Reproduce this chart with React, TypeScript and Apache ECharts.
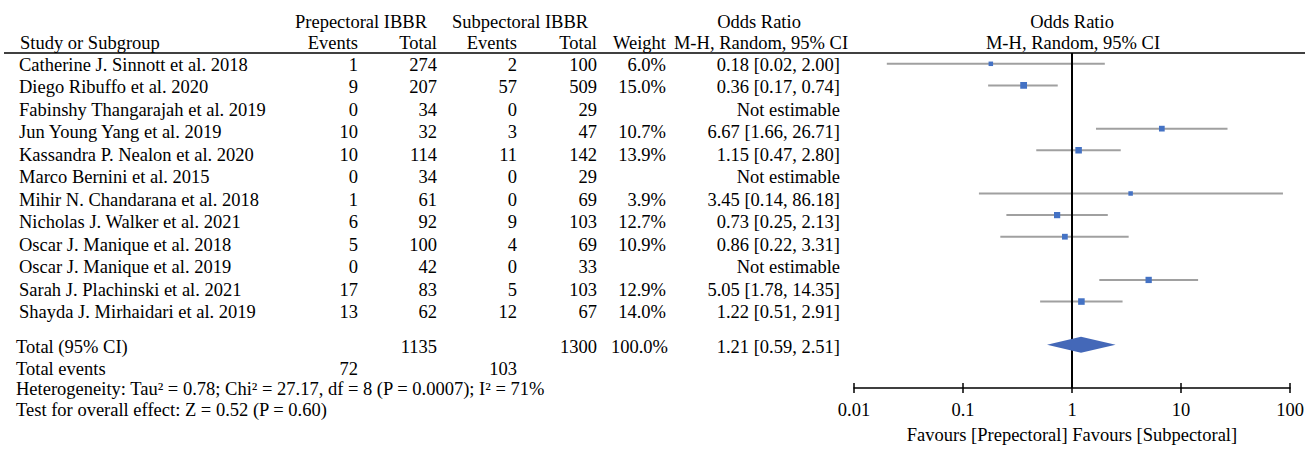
import React, { useEffect, useRef } from "react";
import * as echarts from "echarts";

// ---------- data ----------
const studies = [
  "Catherine J. Sinnott et al. 2018",
  "Diego Ribuffo et al. 2020",
  "Fabinshy Thangarajah et al. 2019",
  "Jun Young Yang et al. 2019",
  "Kassandra P. Nealon et al. 2020",
  "Marco Bernini et al. 2015",
  "Mihir N. Chandarana et al. 2018",
  "Nicholas J. Walker et al. 2021",
  "Oscar J. Manique et al. 2018",
  "Oscar J. Manique et al. 2019",
  "Sarah J. Plachinski et al. 2021",
  "Shayda J. Mirhaidari et al. 2019",
];
const preEvents = [1, 9, 0, 10, 10, 0, 1, 6, 5, 0, 17, 13];
const preTotal = [274, 207, 34, 32, 114, 34, 61, 92, 100, 42, 83, 62];
const subEvents = [2, 57, 0, 3, 11, 0, 0, 9, 4, 0, 5, 12];
const subTotal = [100, 509, 29, 47, 142, 29, 69, 103, 69, 33, 103, 67];
const weights: (number | null)[] = [6.0, 15.0, null, 10.7, 13.9, null, 3.9, 12.7, 10.9, null, 12.9, 14.0];
const oddsRatio: (number | null)[] = [0.18, 0.36, null, 6.67, 1.15, null, 3.45, 0.73, 0.86, null, 5.05, 1.22];
const ciLow: (number | null)[] = [0.02, 0.17, null, 1.66, 0.47, null, 0.14, 0.25, 0.22, null, 1.78, 0.51];
const ciHigh: (number | null)[] = [2.0, 0.74, null, 26.71, 2.8, null, 86.18, 2.13, 3.31, null, 14.35, 2.91];

const totalPreEvents = 72;
const totalSubEvents = 103;
const totalPreN = 1135;
const totalSubN = 1300;
const totalWeight = 100.0;
const totalOR = 1.21;
const totalLow = 0.59;
const totalHigh = 2.51;
const totalRow = 14;

const tickValues = [0.01, 0.1, 1, 10, 100];
const tickLabels = ["0.01", "0.1", "1", "10", "100"];

const heterogeneityText = "Heterogeneity: Tau² = 0.78; Chi² = 27.17, df = 8 (P = 0.0007); I² = 71%";
const overallText = "Test for overall effect: Z = 0.52 (P = 0.60)";
const favoursText = "Favours [Prepectoral] Favours [Subpectoral]";

// ---------- layout / style ----------
const FONT = "'Liberation Serif', 'Times New Roman', Times, serif";
const FS = 18.5;
const GRID_TOP = 53;
const GRID_LEFT = 854;
const GRID_W = 436;
const Y_MIN = 0.5;
const Y_MAX = 16;
const ROW_H = 21.75;
const TEXT_ROW0 = 65;
const TEXT_STEP = 22.45;

const COL = {
  study: 19,
  preEv: 358,
  preTot: 437,
  subEv: 517,
  subTot: 597,
  weight: 667,
  or: 840,
};

function txt(text: string, x: number, y: number, align: string = "left") {
  return {
    type: "text",
    x,
    y,
    silent: true,
    style: {
      text,
      fontSize: FS,
      fontFamily: FONT,
      fill: "#000",
      align,
      verticalAlign: "middle",
      textAlign: align,
      textVerticalAlign: "middle",
    },
  };
}

const fmtCI = (o: number, l: number, h: number) => `${o.toFixed(2)} [${l.toFixed(2)}, ${h.toFixed(2)}]`;

export default function App() {
  const ref = useRef<HTMLDivElement>(null);

  useEffect(() => {
    const chart = echarts.init(ref.current!, null, { renderer: "svg" });

    const graphics: any[] = [];
    const h1 = 21.5;
    const h2 = 42.5;
    graphics.push(txt("Prepectoral IBBR", 361, h1, "center"));
    graphics.push(txt("Subpectoral IBBR", 520, h1, "center"));
    graphics.push(txt("Odds Ratio", 759, h1, "center"));
    graphics.push(txt("Odds Ratio", 1072, h1, "center"));
    graphics.push(txt("Study or Subgroup", 20, h2));
    graphics.push(txt("Events", COL.preEv, h2, "right"));
    graphics.push(txt("Total", COL.preTot, h2, "right"));
    graphics.push(txt("Events", COL.subEv, h2, "right"));
    graphics.push(txt("Total", COL.subTot, h2, "right"));
    graphics.push(txt("Weight", COL.weight - 1, h2, "right"));
    graphics.push(txt("M-H, Random, 95% CI", 761, h2, "center"));
    graphics.push(txt("M-H, Random, 95% CI", 1073, h2, "center"));
    graphics.push({
      type: "line",
      silent: true,
      shape: { x1: 4, y1: GRID_TOP, x2: 1305, y2: GRID_TOP },
      style: { stroke: "#000", lineWidth: 1.5 },
    });

    studies.forEach((name, i) => {
      const y = TEXT_ROW0 + TEXT_STEP * i;
      graphics.push(txt(name, COL.study, y));
      graphics.push(txt(String(preEvents[i]), COL.preEv, y, "right"));
      graphics.push(txt(String(preTotal[i]), COL.preTot, y, "right"));
      graphics.push(txt(String(subEvents[i]), COL.subEv, y, "right"));
      graphics.push(txt(String(subTotal[i]), COL.subTot, y, "right"));
      const w = weights[i];
      if (w != null) graphics.push(txt(`${w.toFixed(1)}%`, COL.weight - 1, y, "right"));
      const o = oddsRatio[i];
      const l = ciLow[i];
      const h = ciHigh[i];
      graphics.push(
        txt(o != null && l != null && h != null ? fmtCI(o, l, h) : "Not estimable", COL.or, y, "right")
      );
    });

    const yTotal = 347;
    graphics.push(txt("Total (95% CI)", 16, yTotal));
    graphics.push(txt(String(totalPreN), COL.preTot, yTotal, "right"));
    graphics.push(txt(String(totalSubN), COL.subTot, yTotal, "right"));
    graphics.push(txt(`${totalWeight.toFixed(1)}%`, COL.weight + 1, yTotal, "right"));
    graphics.push(txt(fmtCI(totalOR, totalLow, totalHigh), COL.or, yTotal, "right"));
    const yEv = 369;
    graphics.push(txt("Total events", 16, yEv));
    graphics.push(txt(String(totalPreEvents), COL.preEv, yEv, "right"));
    graphics.push(txt(String(totalSubEvents), COL.subEv, yEv, "right"));
    graphics.push(txt(heterogeneityText, 16, 389));
    graphics.push(txt(overallText, 16, 410));

    const studyData: any[] = [];
    oddsRatio.forEach((o, i) => {
      if (o != null) studyData.push([ciLow[i], ciHigh[i], o, i + 1, weights[i]]);
    });

    const labelFor = (v: number) => {
      const k = tickValues.findIndex((t) => Math.abs(Math.log10(t) - Math.log10(v)) < 1e-6);
      return k >= 0 ? tickLabels[k] : "";
    };

    const option: any = {
      animation: false,
      backgroundColor: "#fff",
      grid: {
        left: GRID_LEFT,
        top: GRID_TOP,
        width: GRID_W,
        height: (Y_MAX - Y_MIN) * ROW_H,
        containLabel: false,
      },
      xAxis: [
        {
          type: "log",
          logBase: 10,
          min: 0.01,
          max: 100,
          position: "bottom",
          axisLine: { show: true, lineStyle: { color: "#000", width: 1.5 } },
          axisTick: { show: true, inside: false, length: 5, lineStyle: { color: "#000", width: 1.5 } },
          minorTick: { show: false },
          splitLine: { show: false },
          axisLabel: {
            show: true,
            margin: 12,
            fontSize: FS,
            fontFamily: FONT,
            color: "#000",
            formatter: (v: number) => labelFor(v),
          },
          name: favoursText,
          nameLocation: "middle",
          nameGap: 37,
          nameTextStyle: { fontSize: FS, fontFamily: FONT, color: "#000" },
        },
        {
          type: "log",
          logBase: 10,
          min: 0.01,
          max: 100,
          position: "bottom",
          offset: 0,
          axisLine: { show: false },
          axisTick: { show: true, inside: true, length: 5, lineStyle: { color: "#000", width: 1.5 } },
          axisLabel: { show: false },
          splitLine: { show: false },
        },
      ],
      yAxis: {
        type: "value",
        min: Y_MIN,
        max: Y_MAX,
        inverse: true,
        show: false,
      },
      series: [
        {
          type: "custom",
          name: "studies",
          z: 2,
          data: studyData,
          encode: { x: [0, 1, 2], y: 3 },
          renderItem: (params: any, api: any) => {
            const row = api.value(3);
            const pLo = api.coord([api.value(0), row]);
            const pHi = api.coord([api.value(1), row]);
            const pC = api.coord([api.value(2), row]);
            const s = Math.max(4.5, 1.75 * Math.sqrt(api.value(4)));
            return {
              type: "group",
              children: [
                {
                  type: "line",
                  shape: { x1: pLo[0], y1: pLo[1], x2: pHi[0], y2: pHi[1] },
                  style: { stroke: "#a0a0a0", lineWidth: 2 },
                },
                {
                  type: "rect",
                  shape: { x: pC[0] - s / 2, y: pC[1] - s / 2, width: s, height: s },
                  style: { fill: "#4472C4" },
                  z2: 10,
                },
              ],
            };
          },
        },
        {
          type: "line",
          name: "no effect",
          z: 3,
          symbol: "none",
          data: [
            [1, Y_MIN],
            [1, Y_MAX],
          ],
          lineStyle: { color: "#000", width: 2 },
        },
        {
          type: "custom",
          name: "total",
          z: 4,
          data: [[totalLow, totalHigh, totalOR, totalRow]],
          encode: { x: [0, 1, 2], y: 3 },
          renderItem: (params: any, api: any) => {
            const row = api.value(3);
            const pLo = api.coord([api.value(0), row]);
            const pHi = api.coord([api.value(1), row]);
            const pC = api.coord([api.value(2), row]);
            const hh = 8;
            return {
              type: "polygon",
              shape: {
                points: [
                  [pLo[0], pLo[1]],
                  [pC[0], pC[1] - hh],
                  [pHi[0], pHi[1]],
                  [pC[0], pC[1] + hh],
                ],
              },
              style: { fill: "#4468B8" },
            };
          },
        },
      ],
      graphic: graphics,
    };

    chart.setOption(option);
    return () => chart.dispose();
  }, []);

  return (
    <div
      ref={ref}
      style={{ position: "absolute", left: 0, top: 0, width: 1311, height: 449, background: "#fff" }}
    />
  );
}
